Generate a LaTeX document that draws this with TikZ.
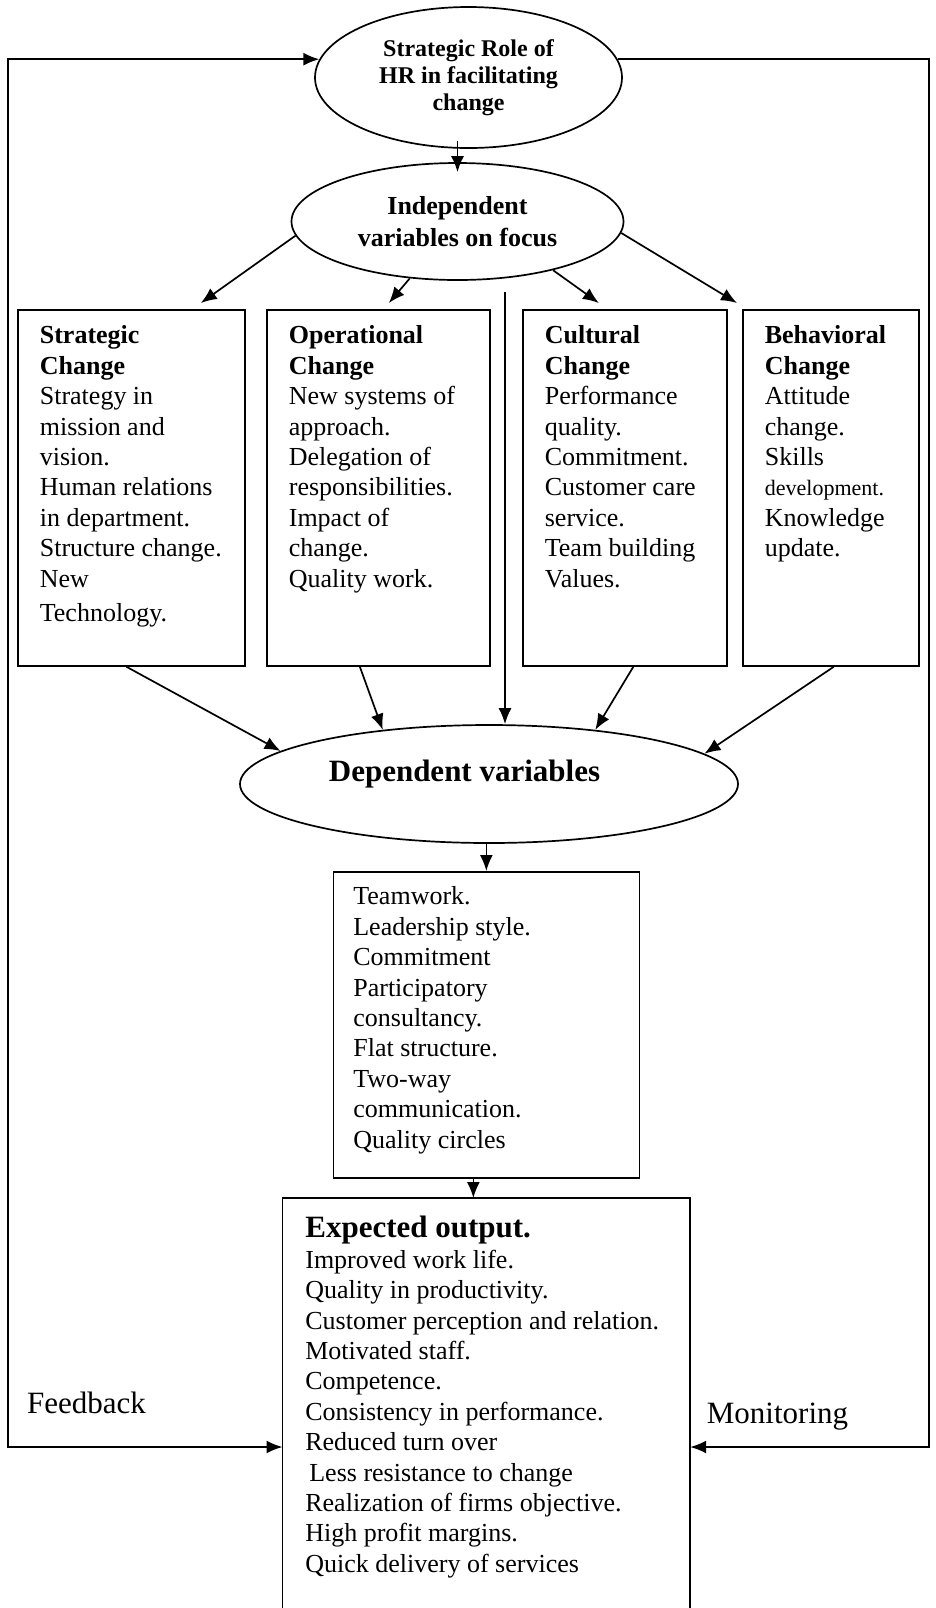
\documentclass[tikz,border=0pt]{standalone}
\usepackage{fontspec}
\setmainfont{Liberation Serif}
\usetikzlibrary{arrows.meta, shapes.geometric}

\newcommand{\boxlines}[5]{\parbox[c][#2][t]{#1}{\raggedright\leftskip=#3\relax\rule{0pt}{#4}#5}}

\begin{document}
\begin{tikzpicture}[x=0.5pt, y=-0.5pt, line width=0.85pt, >={Latex[length=8pt,width=6.5pt]},
  font=\fontsize{13}{15.2}\selectfont,
  oval/.style={draw, ellipse, inner sep=0pt},
  listbox/.style={draw, rectangle, inner sep=0pt, anchor=north west}]
\useasboundingbox (0,0) rectangle (936,1608);

\node (role) [oval, align=center, minimum width=153.5pt, minimum height=70.5pt, font=\fontsize{12}{13.5}\selectfont\bfseries] at (468.5,77.5) {Strategic Role of\\HR in facilitating\\change};
\node (indep) [oval, align=center, minimum width=166pt, minimum height=58.5pt, font=\fontsize{13}{16}\selectfont\bfseries] at (457.5,221.5) {Independent\\variables on focus};

\node (strat) [listbox] at (17,309) {\boxlines{113.5pt}{178pt}{11pt}{17pt}{\textbf{Strategic\\Change}\\Strategy in\\mission and\\vision.\\Human relations\\in department.\\Structure change.\\New\\[2pt]Technology.}};
\node (oper) [listbox] at (266,309) {\boxlines{111.5pt}{178pt}{11pt}{17pt}{\textbf{Operational\\Change}\\New systems of\\approach.\\Delegation of\\responsibilities.\\Impact of\\change.\\Quality work.}};
\node (cult) [listbox] at (522,309) {\boxlines{102pt}{178pt}{11pt}{17pt}{\textbf{Cultural\\Change}\\Performance\\quality.\\Commitment.\\Customer care\\service.\\Team building\\Values.}};
\node (behav) [listbox] at (742,309) {\boxlines{88pt}{178pt}{11pt}{17pt}{\textbf{Behavioral\\Change}\\Attitude\\change.\\Skills\\{\fontsize{11}{15.2}\selectfont development.}\\Knowledge\\update.}};

\node (dep) [oval, minimum width=249pt, minimum height=59pt, text depth=13pt, font=\fontsize{15.5}{18}\selectfont\bfseries] at (489,784) {Dependent variables\hspace*{24.5pt}};

\node (mid) [listbox] at (332.5,871) {\boxlines{153pt}{153pt}{10pt}{16.5pt}{Teamwork.\\Leadership style.\\Commitment\\Participatory\\consultancy.\\Flat structure.\\Two-way\\communication.\\Quality circles}};
\node (out) [listbox, draw=none] at (282.5,1198) {\boxlines{203pt}{205pt}{11pt}{19.5pt}{{\fontsize{15.5}{15.2}\selectfont\bfseries Expected output.}\\Improved work life.\\Quality in productivity.\\Customer perception and relation.\\Motivated staff.\\Competence.\\Consistency in performance.\\Reduced turn over\\\hspace*{2pt}Less resistance to change\\Realization of firms objective.\\High profit margins.\\Quick delivery of services}};
\draw (out.south west) -- (out.north west) -- (out.north east) -- (out.south east);

\node (fb) [font=\fontsize{15.5}{18}\selectfont] at (86.5,1403) {Feedback};
\node (mon) [font=\fontsize{15.5}{18}\selectfont] at (777.5,1417) {Monitoring};

\coordinate (vtop) at (505,292);
\coordinate (fbcorner) at (8,1447);
\coordinate (mocorner) at (929,1447);

\draw[->] ([yshift=4pt]indep.north |- role.south) -- ([yshift=-5pt]indep.north);
\draw[->] (indep.185) -- ([xshift=34.75pt,yshift=3pt]strat.north);
\draw[->] (indep.230) -- ([xshift=5.25pt,yshift=3pt]oper.north);
\draw[->] (indep.333) -- ([xshift=-13pt,yshift=3pt]cult.north);
\draw[->] (indep.356) -- ([xshift=-2.5pt,yshift=3pt]behav.north west);
\draw[->] (vtop) -- (vtop |- dep.north);
\draw[->] ([xshift=-2.5pt]strat.south) -- (dep.171);
\draw[->] ([xshift=-9.25pt]oper.south) -- (dep.153);
\draw[->] ([xshift=4.25pt]cult.south) -- (dep.27);
\draw[->] ([xshift=1.5pt]behav.south) -- (dep.8.5);
\draw[->] (mid.north |- dep.south) -- (mid.north);
\draw[->] ([xshift=-6.5pt]mid.south) -- ([xshift=-6.5pt]out.north);
\draw[<->] (role.173) -| (fbcorner) -- (out.west |- fbcorner);
\draw[->] (role.7) -| (mocorner) -- (out.east |- mocorner);
\end{tikzpicture}
\end{document}
